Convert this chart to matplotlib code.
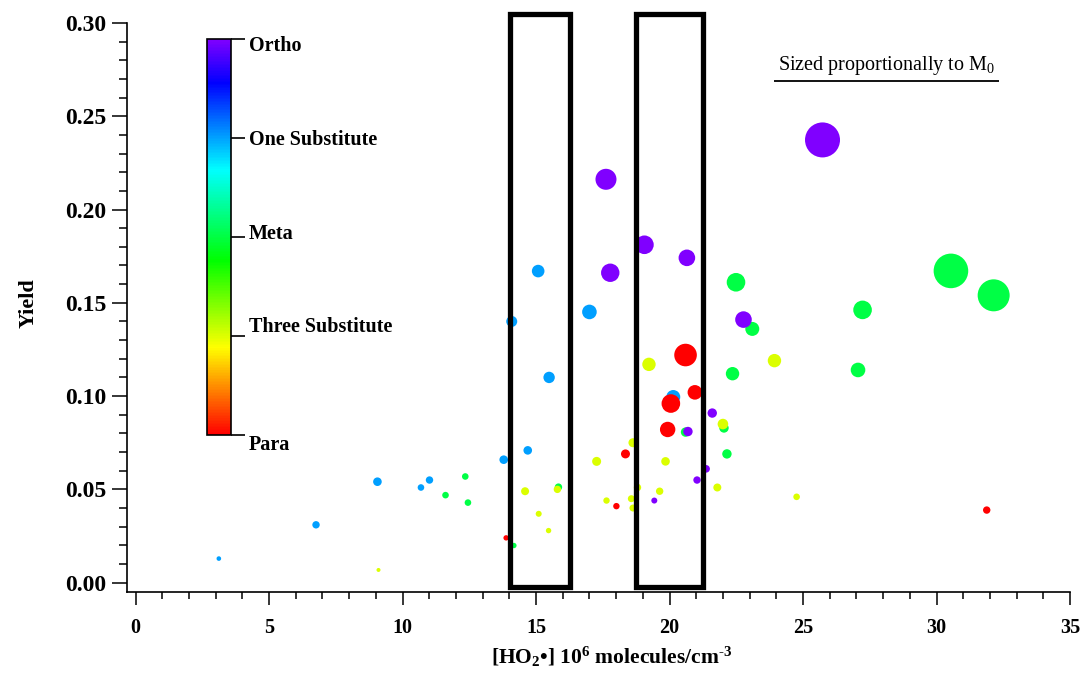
"""Yield vs HO2 concentration, coloured by substitution pattern
"""

import numpy as np
import matplotlib as mpl
mpl.use('Agg')
from matplotlib import pyplot as plt
from matplotlib.patches import Rectangle
from matplotlib.ticker import MultipleLocator, FormatStrFormatter

# substitution classes, bottom to top of the colour bar
classes = ['Para', 'Three Substitute', 'Meta', 'One Substitute', 'Ortho']

# points per class: HO2 (1e6 molecules/cm3), yield, relative M0
meta_x = [30.54, 32.14, 22.49, 27.23, 23.10, 27.06, 22.36, 22.04, 20.60, 22.15, 12.35, 11.61, 12.45, 15.84, 14.17]
meta_y = [0.1671, 0.1540, 0.1610, 0.1462, 0.1360, 0.1140, 0.1120, 0.0829, 0.0807, 0.0690, 0.0569, 0.0469, 0.0429, 0.0512, 0.0199]
meta_m0 = [17.3, 16.0, 9.3, 9.3, 7.0, 7.3, 6.7, 4.7, 4.7, 4.7, 3.3, 3.3, 3.3, 3.7, 2.7]

one_x = [15.08, 17.00, 14.09, 15.49, 20.14, 14.69, 13.79, 9.06, 11.01, 10.69, 6.76, 3.12]
one_y = [0.1670, 0.1451, 0.1400, 0.1100, 0.0995, 0.0709, 0.0659, 0.0541, 0.0550, 0.0510, 0.0310, 0.0129]
one_m0 = [6.3, 7.3, 5.5, 5.7, 7.0, 4.3, 4.3, 4.3, 3.7, 3.3, 3.7, 2.3]

three_x = [23.93, 19.23, 22.00, 18.63, 17.27, 19.85, 21.79, 18.80, 19.63, 14.59, 15.80, 24.76, 18.57, 17.64,
           18.63, 15.10, 15.47, 9.10]
three_y = [0.1190, 0.1170, 0.0850, 0.0750, 0.0650, 0.0650, 0.0510, 0.0510, 0.0490, 0.0490, 0.0500, 0.0460,
           0.0450, 0.0440, 0.0400, 0.0369, 0.0279, 0.0068]
three_m0 = [6.7, 6.7, 5.3, 4.5, 4.5, 4.3, 4.0, 3.7, 3.7, 4.0, 3.7, 3.3, 3.5, 3.2, 3.5, 3.0, 2.7, 2.0]

ortho_x = [25.73, 17.62, 19.06, 20.65, 17.78, 22.77, 21.60, 20.69, 21.37, 21.03, 19.43]
ortho_y = [0.2373, 0.2162, 0.1811, 0.1741, 0.1661, 0.1410, 0.0909, 0.0810, 0.0610, 0.0550, 0.0440]
ortho_m0 = [17.5, 10.5, 9.3, 8.3, 9.2, 8.3, 4.7, 4.7, 3.8, 3.7, 3.0]

para_x = [20.60, 20.95, 20.05, 19.93, 18.35, 18.01, 13.88, 31.88]
para_y = [0.1220, 0.1020, 0.0960, 0.0821, 0.0690, 0.0410, 0.0240, 0.0389]
para_m0 = [11.3, 7.3, 9.3, 7.7, 4.5, 3.2, 2.7, 3.7]

# highlighted HO2 windows
windows = [(14.02, 16.28), (18.74, 21.27)]

plt.rcParams['font.family'] = ['Liberation Serif', 'DejaVu Serif']
plt.rcParams['mathtext.fontset'] = 'custom'
plt.rcParams['mathtext.rm'] = 'Liberation Serif'
plt.rcParams['mathtext.bf'] = 'Liberation Serif:bold'
plt.rcParams['mathtext.it'] = 'Liberation Serif:italic'

cmap = mpl.colors.LinearSegmentedColormap.from_list('rainbow_r', [
    (0.00, '#ff0000'), (0.22, '#ffff00'), (0.44, '#00ff00'),
    (0.67, '#00ffff'), (0.89, '#0000ff'), (1.00, '#8000ff')])
norm = mpl.colors.Normalize(vmin=0, vmax=len(classes) - 1)

# drawing order matters for overlaps
groups = [
    ('Meta', meta_x, meta_y, meta_m0),
    ('One Substitute', one_x, one_y, one_m0),
    ('Three Substitute', three_x, three_y, three_m0),
    ('Ortho', ortho_x, ortho_y, ortho_m0),
    ('Para', para_x, para_y, para_m0),
]

xx, yy, mm, cc = [], [], [], []
for name, gx, gy, gm in groups:
    xx += gx
    yy += gy
    mm += gm
    cc += [classes.index(name)] * len(gx)
xx = np.array(xx)
yy = np.array(yy)
mm = np.array(mm)
cc = np.array(cc)

fig = plt.figure(figsize=(10.84, 6.77), dpi=100)
ax = fig.add_axes([0.1172, 0.1256, 0.8699, 0.8405])

ax.scatter(xx, yy, s=(1.44 * mm)**2, c=cc, cmap=cmap, norm=norm, edgecolors='none', zorder=2)

for x0, x1 in windows:
    ax.add_patch(Rectangle((x0, -0.0021), x1 - x0, 0.3071, fill=False, ec='k', lw=3.8,
                           joinstyle='miter', clip_on=False, zorder=3))

ax.set_xlim(-0.318, 35.0)
ax.set_ylim(-0.005, 0.30)
for side in ['top', 'right']:
    ax.spines[side].set_visible(False)
for side in ['left', 'bottom']:
    ax.spines[side].set_linewidth(1.2)

ax.xaxis.set_major_locator(MultipleLocator(5))
ax.xaxis.set_minor_locator(MultipleLocator(1))
ax.yaxis.set_major_locator(MultipleLocator(0.05))
ax.yaxis.set_minor_locator(MultipleLocator(0.01))
ax.yaxis.set_major_formatter(FormatStrFormatter('%.2f'))
ax.tick_params(axis='both', which='major', width=1.1, direction='out')
ax.tick_params(axis='both', which='minor', width=1.1, direction='out')
ax.tick_params(axis='x', which='major', length=9.5, pad=9, labelsize=14.5)
ax.tick_params(axis='x', which='minor', length=5)
ax.tick_params(axis='y', which='major', length=10.8, pad=4, labelsize=17)
ax.tick_params(axis='y', which='minor', length=6)
for lab in ax.get_xticklabels() + ax.get_yticklabels():
    lab.set_fontweight('bold')

ax.set_ylabel('Yield', fontsize=16, fontweight='bold')
ax.yaxis.set_label_coords(-0.094, 0.508)
ax.set_xlabel(r'[HO$_\mathbf{2}$•] 10$^{\mathbf{6}}$ molecules/cm$^{\mathbf{‐3}}$', fontsize=15.5, fontweight='bold')
ax.xaxis.set_label_coords(0.514, -0.092)

ax.text(0.806, 0.917, r'Sized proportionally to M$_0$', transform=ax.transAxes,
        ha='center', va='baseline', fontsize=14.5)
ax.plot([0.686, 0.925], [0.898, 0.898], transform=ax.transAxes, color='k', lw=1.3,
        clip_on=False, solid_capstyle='butt')

# colour bar inset
cax = fig.add_axes([0.191, 0.3575, 0.0221, 0.585])
smap = mpl.cm.ScalarMappable(norm=norm, cmap=cmap)
cb = fig.colorbar(smap, cax=cax, ticks=range(len(classes)))
cb.ax.set_yticklabels(classes)
cb.outline.set_linewidth(1.2)
cb.ax.tick_params(length=10, width=1.2, pad=3, labelsize=14.5)
# labels sit slightly off their ticks in the original
label_shift = [-8, 11, 5, 0, -5]  # pixels, upward positive
for lab, dy in zip(cb.ax.get_yticklabels(), label_shift):
    lab.set_fontweight('bold')
    lab.set_transform(lab.get_transform() +
                      mpl.transforms.ScaledTranslation(0, dy / 100.0, fig.dpi_scale_trans))

fig.savefig('out.png', dpi=100)
